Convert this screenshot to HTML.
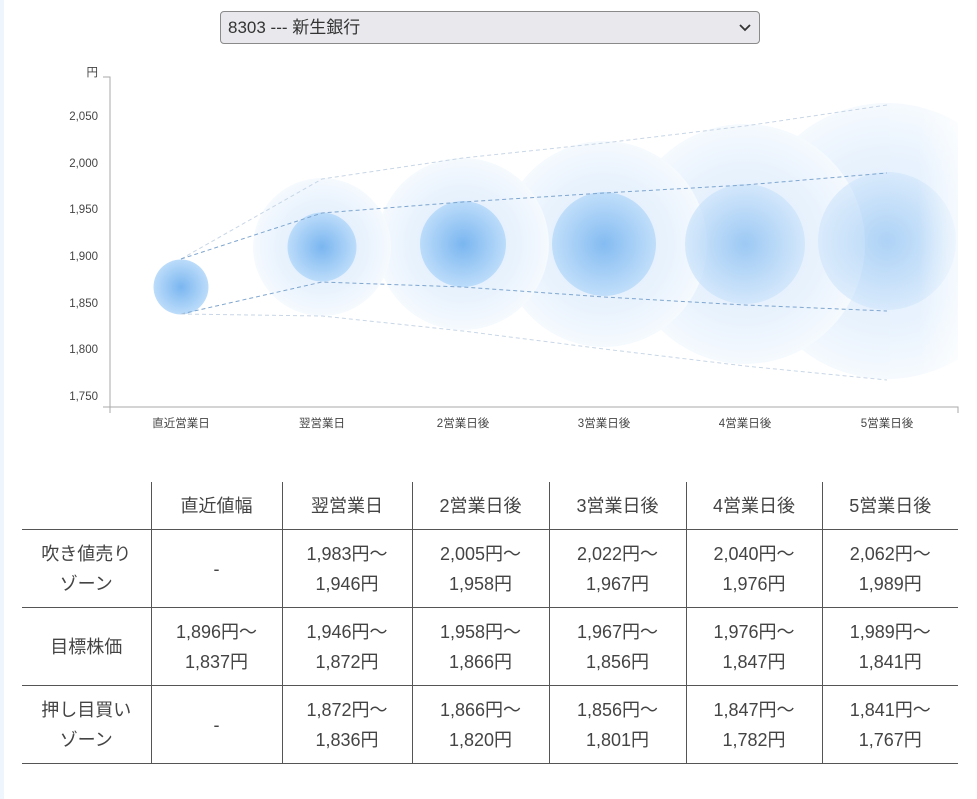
<!DOCTYPE html>
<html><head><meta charset="utf-8"><style>
body{margin:0;width:977px;height:799px;background:#fff;position:relative;overflow:hidden;font-family:"Liberation Sans","Noto Sans CJK JP",sans-serif;color:#444}
.strip{position:absolute;left:0;top:0;width:4px;height:799px;background:#eef5fc}
.sel{position:absolute;left:220px;top:11px;width:540px;height:33px;box-sizing:border-box;border:1px solid #8a8a8a;border-radius:4px;background:#e9e8ed;font-size:17px;line-height:31px;padding-left:7px;color:#333}
table{position:absolute;left:22px;top:482px;width:936px;border-collapse:collapse;font-size:18px;color:#444}
td{border:1px solid #555;text-align:center;line-height:30px;padding:0}
tr td:first-child{border-left:none}
tr td:last-child{border-right:none}
tr:first-child td{border-top:none;height:47px}
tr.r td{height:77px}
</style></head><body>
<div class="strip"></div>
<div class="sel">8303 --- 新生銀行<svg style="position:absolute;right:8px;top:12px" width="12" height="8"><path d="M1 1L6 6L11 1" stroke="#333" stroke-width="1.8" fill="none"/></svg></div>
<svg style="position:absolute;left:0;top:0" width="977" height="470" font-family="Liberation Sans,Noto Sans CJK JP,sans-serif">
<defs>
<radialGradient id="gi"><stop offset="0" stop-color="#7ab6f0"/><stop offset="1" stop-color="#bcdcfa"/></radialGradient>
<radialGradient id="gi2"><stop offset="0" stop-color="#8cc0f2"/><stop offset="1" stop-color="#cfe5fb"/></radialGradient>
<radialGradient id="go"><stop offset="0" stop-color="#d2e7fc"/><stop offset="0.6" stop-color="#deedfd"/><stop offset="1" stop-color="#f2f8fe"/></radialGradient>
<linearGradient id="fade" x1="0" x2="1"><stop offset="0.8" stop-color="#fff" stop-opacity="0"/><stop offset="1" stop-color="#fff" stop-opacity="0.6"/></linearGradient>
<clipPath id="c"><rect x="110" y="60" width="848" height="347"/></clipPath>
</defs>
<g clip-path="url(#c)">
<g opacity="0.7">
<circle cx="887" cy="241" r="138" fill="url(#go)"/>
<circle cx="745" cy="244" r="120" fill="url(#go)"/>
<circle cx="604" cy="244" r="103" fill="url(#go)"/>
<circle cx="463" cy="244" r="86" fill="url(#go)"/>
<circle cx="322" cy="247" r="69" fill="url(#go)"/>
</g>
<circle cx="322" cy="247" r="34.5" fill="url(#gi)"/>
<circle cx="463" cy="244" r="43" fill="url(#gi)"/>
<circle cx="604" cy="244" r="52" fill="url(#gi)" opacity="0.9"/>
<circle cx="745" cy="244" r="60" fill="url(#gi2)" opacity="0.8"/>
<circle cx="887" cy="241" r="69" fill="url(#gi2)" opacity="0.6"/>
<circle cx="181" cy="287" r="27.5" fill="url(#gi)"/>
<rect x="750" y="90" width="210" height="310" fill="url(#fade)"/>
<g fill="none" stroke-dasharray="4,3" stroke-width="1">
<polyline stroke="#c8d6e6" points="181,259 322,179 463,158 604,143 745,126 887,105"/>
<polyline stroke="#7fa6cf" points="181,259 322,213 463,202 604,193 745,185 887,173"/>
<polyline stroke="#7fa6cf" points="181,314 322,282 463,287 604,297 745,305 887,311"/>
<polyline stroke="#c8d6e6" points="181,314 322,316 463,331 604,349 745,366 887,380"/>
</g>
</g>
<g stroke="#aaa" fill="none"><path d="M103 77H110V413M103 407H958V413"/></g>
<g font-size="11.5" fill="#444" text-anchor="end">
<text x="98" y="76">円</text>
<text x="98" y="120">2,050</text><text x="98" y="167">2,000</text><text x="98" y="213">1,950</text><text x="98" y="260">1,900</text><text x="98" y="307">1,850</text><text x="98" y="353">1,800</text><text x="98" y="400">1,750</text>
</g>
<g font-size="11.5" fill="#444" text-anchor="middle">
<text x="181" y="427">直近営業日</text><text x="322" y="427">翌営業日</text><text x="463" y="427">2営業日後</text><text x="604" y="427">3営業日後</text><text x="745" y="427">4営業日後</text><text x="887" y="427">5営業日後</text>
</g>
</svg>
<table>
<colgroup><col style="width:129px"><col style="width:131px"><col style="width:130px"><col style="width:137px"><col style="width:137px"><col style="width:136px"><col></colgroup>
<tr><td></td><td>直近値幅</td><td>翌営業日</td><td>2営業日後</td><td>3営業日後</td><td>4営業日後</td><td>5営業日後</td></tr>
<tr class="r"><td>吹き値売り<br>ゾーン</td><td>-</td><td>1,983円～<br>1,946円</td><td>2,005円～<br>1,958円</td><td>2,022円～<br>1,967円</td><td>2,040円～<br>1,976円</td><td>2,062円～<br>1,989円</td></tr>
<tr class="r"><td>目標株価</td><td>1,896円～<br>1,837円</td><td>1,946円～<br>1,872円</td><td>1,958円～<br>1,866円</td><td>1,967円～<br>1,856円</td><td>1,976円～<br>1,847円</td><td>1,989円～<br>1,841円</td></tr>
<tr class="r"><td>押し目買い<br>ゾーン</td><td>-</td><td>1,872円～<br>1,836円</td><td>1,866円～<br>1,820円</td><td>1,856円～<br>1,801円</td><td>1,847円～<br>1,782円</td><td>1,841円～<br>1,767円</td></tr>
</table>
</body></html>
